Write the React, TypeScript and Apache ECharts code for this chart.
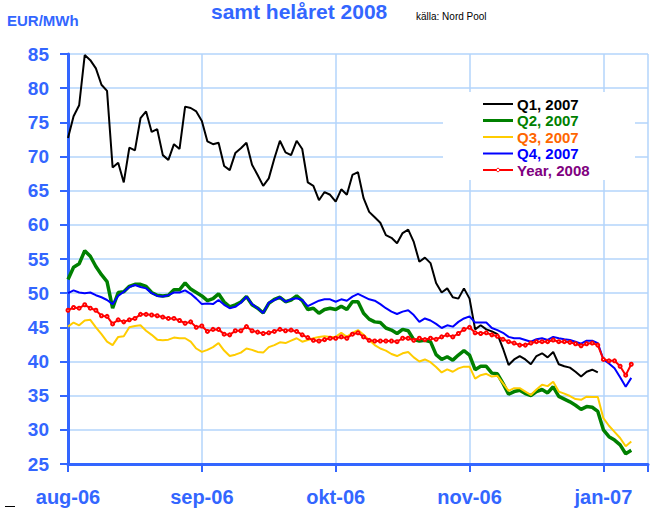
import React, { useEffect, useRef } from "react";
import * as echarts from "echarts";

// trading-day index along x; tick labels every 24 days
const tickLabels: Record<number, string> = { 0: "aug-06", 24: "sep-06", 48: "okt-06", 72: "nov-06", 96: "jan-07" };

const seriesNames = ["Q1, 2007", "Q2, 2007", "Q3, 2007", "Q4, 2007", "Year, 2008"];

const q1 = [
  72.7, 75.9, 77.5, 84.85, 84.1, 82.9, 80.5, 79.6, 68.4, 69.1, 66.2, 71.3, 70.9, 75.6, 76.6, 73.6, 74.0, 70.2, 69.5, 71.8,
  71.1, 77.3, 77.1, 76.6, 75.2, 72.2, 71.8, 72.0, 68.6, 68.0, 70.5, 71.2, 72.0, 68.8, 67.3, 65.7, 66.8, 69.7, 72.3, 70.6,
  70.2, 72.3, 71.1, 66.2, 65.7, 63.6, 64.8, 64.4, 63.4, 65.2, 64.4, 67.3, 67.7, 63.9, 61.9, 61.1, 60.3, 58.5, 58.1, 57.3,
  58.8, 59.3, 57.5, 54.6, 55.2, 54.4, 51.5, 50.1, 50.7, 49.4, 49.2, 50.7, 49.2, 44.7, 45.3, 44.7, 44.4, 44.0, 41.9, 39.5,
  40.3, 40.8, 40.3, 39.6, 40.8, 41.2, 40.6, 41.4, 39.6, 39.3, 39.1, 38.5, 37.8, 38.5, 38.8, 38.4,
];
const q2 = [
  52.0, 53.8, 54.3, 56.2, 55.4, 53.9, 52.7, 51.7, 47.8, 50.1, 50.2, 51.0, 51.3, 51.3, 51.0, 50.1, 49.7, 49.6, 49.7, 50.5,
  50.5, 51.5, 50.6, 50.1, 49.6, 48.9, 49.2, 49.9, 48.7, 48.0, 48.3, 48.7, 49.5, 48.3, 47.8, 47.1, 48.5, 49.1, 49.4, 48.75,
  49.0, 49.6, 48.9, 47.6, 47.8, 47.05, 47.6, 47.8, 47.6, 48.1, 47.6, 48.75, 48.75, 47.05, 46.2, 45.8, 45.7, 44.9, 44.6, 44.1,
  44.7, 44.5, 43.2, 43.0, 43.1, 42.9, 41.0, 40.3, 40.7, 40.2, 40.95, 41.6, 40.95, 38.8, 39.3, 39.3, 38.3, 38.2, 36.8, 35.2,
  35.6, 35.8, 35.3, 35.0, 35.6, 35.9, 35.4, 36.3, 34.9, 34.5, 34.1, 33.6, 33.0, 33.4, 33.3, 32.7, 30.0, 29.0, 28.5, 27.8,
  26.5, 27.0,
];
const q3 = [
  45.1, 45.7, 45.3, 46.0, 46.1, 45.0, 44.0, 42.9, 42.4, 43.6, 43.7, 45.0, 45.2, 45.3, 44.5, 43.9, 43.2, 43.1, 43.2, 43.5,
  43.4, 43.4, 42.9, 41.9, 41.4, 41.7, 42.1, 42.7, 41.6, 40.8, 41.0, 41.3, 41.9, 41.7, 41.4, 41.3, 42.1, 42.4, 42.8, 42.7,
  43.05, 43.4, 42.9, 43.15, 43.4, 43.6, 43.7, 43.6, 43.6, 44.2, 43.6, 44.2, 44.6, 43.9, 43.15, 42.4, 41.9, 41.6, 41.1, 40.8,
  41.2, 41.4, 40.6, 40.0, 40.3, 39.9, 39.2, 38.4, 38.85, 38.5, 39.0, 39.25, 39.25, 37.5, 38.0, 38.2, 37.8, 37.9, 36.8, 35.7,
  36.1, 36.1, 35.6, 35.1, 35.9, 36.6, 36.4, 37.05, 35.6, 35.3, 34.95, 34.5, 34.4, 34.85, 34.8, 34.8, 31.7, 30.6, 29.7, 28.8,
  27.6, 28.3,
];
const q4 = [
  50.0, 50.4, 50.1, 50.0, 50.1, 49.7, 49.4, 49.0, 48.4, 49.6, 50.2, 50.9, 51.2, 50.9, 50.7, 50.0, 49.6, 49.5, 49.7, 50.1,
  50.1, 50.4, 49.9, 49.2, 48.4, 48.5, 48.4, 49.0, 48.3, 47.8, 48.0, 48.6, 49.5, 48.4, 47.8, 47.1, 48.6, 49.0, 49.4, 48.75,
  49.1, 49.25, 49.0, 48.1, 48.5, 48.9, 49.1, 49.1, 48.75, 49.1, 48.9, 49.5, 49.9, 49.5, 49.1, 48.9, 48.4, 47.8, 47.3, 46.95,
  47.3, 47.5, 46.8, 45.8, 46.3, 46.0, 45.5, 44.9, 45.3, 45.1, 45.8, 46.3, 46.6, 45.7, 45.7, 45.7, 44.9, 44.6, 44.2, 43.6,
  43.4, 43.4, 43.15, 42.9, 43.25, 43.4, 43.15, 43.6, 43.4, 43.25, 43.15, 42.9, 42.6, 43.05, 43.05, 42.7, 40.3, 39.7, 39.0, 37.7,
  36.3, 37.6,
];
const year2008 = [
  47.5, 47.9, 47.8, 48.3, 47.8, 47.5, 46.7, 46.6, 45.5, 46.1, 45.8, 46.1, 46.3, 46.9, 46.9, 46.8, 46.7, 46.5, 46.3, 46.3,
  46.0, 45.6, 45.8, 45.0, 45.2, 44.4, 44.7, 44.7, 44.0, 43.9, 44.5, 44.5, 45.1, 44.5, 44.3, 44.1, 44.2, 44.4, 44.7, 44.5,
  44.6, 44.4, 43.9, 43.5, 43.1, 43.0, 43.2, 43.4, 43.4, 43.6, 43.4, 44.0, 44.2, 43.6, 43.1, 43.0, 43.0, 43.0, 43.0, 42.9,
  43.4, 43.4, 43.1, 43.4, 43.2, 43.4, 43.25, 43.6, 43.9, 43.6, 44.1, 44.7, 45.0, 44.2, 44.1, 44.2, 43.9, 43.7, 43.25, 42.9,
  42.7, 42.4, 42.4, 42.7, 42.9, 42.9, 42.9, 43.15, 42.9, 42.9, 42.8, 42.6, 42.3, 42.6, 42.7, 42.4, 40.3, 40.1, 40.1, 39.3,
  38.0, 39.6,
];

const lineColors = ["#000000", "#008000", "#ffcc00", "#0000ff", "#ff0000"];
const legendTextColors = ["#000000", "#008000", "#ff6600", "#0000ff", "#800080"];
const lineWidths = [2, 3.5, 2, 2, 2];

const AXIS = "#3366ff";
const GRID = "#b3d4fb";
const FONT = "Arial, 'Liberation Sans', sans-serif";

export default function App() {
  const ref = useRef<HTMLDivElement>(null);
  useEffect(() => {
    if (!ref.current) return;
    const chart = echarts.init(ref.current, undefined, { renderer: "svg" });
    const all = [q1, q2, q3, q4, year2008];

    const legendEls: any[] = [
      { type: "rect", z: 100, shape: { x: 443, y: 92, width: 192, height: 88 }, style: { fill: "#ffffff" } },
    ];
    seriesNames.forEach((n, i) => {
      const y = 104 + i * 16.5;
      legendEls.push({
        type: "line",
        z: 101,
        shape: { x1: 483, y1: y, x2: 513, y2: y },
        style: { stroke: lineColors[i], lineWidth: i === 1 ? 3 : 2 },
      });
      if (i === 4) {
        legendEls.push({
          type: "circle",
          z: 102,
          shape: { cx: 498, cy: y, r: 1.7 },
          style: { fill: "#ffffff", stroke: lineColors[i], lineWidth: 1 },
        });
      }
      legendEls.push({
        type: "text",
        z: 101,
        x: 517,
        y: y,
        style: {
          text: n,
          font: `bold 15px ${FONT}`,
          fill: legendTextColors[i],
          textVerticalAlign: "middle",
          verticalAlign: "middle",
        },
      });
    });

    chart.setOption({
      animation: false,
      backgroundColor: "#ffffff",
      textStyle: { fontFamily: FONT },
      grid: { left: 68, top: 54, width: 602, height: 410, containLabel: false },
      xAxis: {
        type: "value",
        min: 0,
        max: 104,
        interval: 24,
        axisLine: { onZero: false, lineStyle: { color: AXIS, width: 3 } },
        axisTick: { show: true, length: 8, lineStyle: { color: AXIS, width: 2 } },
        splitLine: { show: true, lineStyle: { color: GRID, width: 1.5 } },
        axisLabel: {
          margin: 23,
          color: AXIS,
          fontSize: 20,
          fontWeight: "bold",
          fontFamily: FONT,
          formatter: (v: number) => tickLabels[v] ?? "",
        },
      },
      yAxis: {
        type: "value",
        min: 25,
        max: 85,
        interval: 5,
        axisLine: { show: true, lineStyle: { color: AXIS, width: 3 } },
        axisTick: { show: true, length: 8, lineStyle: { color: AXIS, width: 2 } },
        splitLine: { show: true, lineStyle: { color: GRID, width: 1.5 } },
        axisLabel: { margin: 19, color: AXIS, fontSize: 19, fontWeight: "bold", fontFamily: FONT },
      },
      graphic: [
        {
          type: "text",
          left: 211,
          top: 1,
          style: { text: "samt helåret 2008", font: `bold 21px ${FONT}`, fill: AXIS },
        },
        {
          type: "text",
          left: 7,
          top: 13,
          style: { text: "EUR/MWh", font: `bold 15px ${FONT}`, fill: AXIS },
        },
        {
          type: "text",
          left: 416,
          top: 11,
          style: { text: "källa: Nord Pool", font: `10px ${FONT}`, fill: "#000000" },
        },
        {
          type: "line",
          shape: { x1: 5, y1: 506.5, x2: 15, y2: 506.5 },
          style: { stroke: "#000000", lineWidth: 1 },
        },
        ...legendEls,
      ],
      series: all.map((arr, i) => ({
        name: seriesNames[i],
        type: "line",
        data: arr.map((v, k) => [k, v]),
        symbol: i === 4 ? "emptyCircle" : "none",
        symbolSize: 3,
        showSymbol: i === 4,
        showAllSymbol: true,
        color: lineColors[i],
        itemStyle: { color: lineColors[i], borderColor: lineColors[i], borderWidth: 1 },
        lineStyle: { color: lineColors[i], width: lineWidths[i] },
        z: 2 + i,
      })),
    });
    return () => chart.dispose();
  }, []);
  return <div ref={ref} style={{ position: "fixed", left: 0, top: 0, width: 651, height: 508 }} />;
}
